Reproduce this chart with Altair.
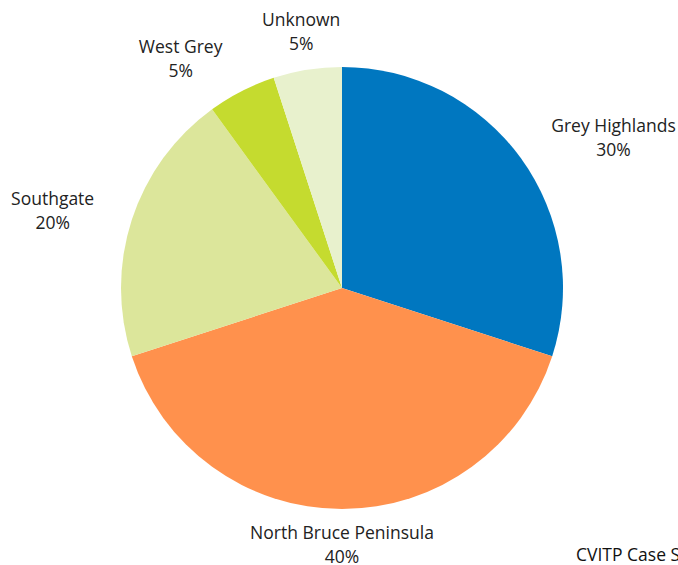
import altair as alt
import pandas as pd

categories = ["Grey Highlands", "North Bruce Peninsula", "Southgate", "West Grey", "Unknown"]
shares = [30, 40, 20, 5, 5]
colors = ["#0077C0", "#FF914D", "#DCE69B", "#C5DB2F", "#E8F1CD"]

# label layout (best-fit placement, like the original): radius from centre and angular nudge in degrees
label_radius = {"Grey Highlands": 311, "North Bruce Peninsula": 255, "Southgate": 300,
                "West Grey": 282, "Unknown": 261}
label_nudge = {"Grey Highlands": 6.8, "North Bruce Peninsula": 0, "Southgate": -2.7,
               "West Grey": -7.9, "Unknown": 0}

df = pd.DataFrame({"category": categories, "share": shares})
df["order"] = range(len(df))
df["label"] = [f"{c}\n{s}%" for c, s in zip(categories, shares)]
total = sum(shares)
cum = 0
mids = []
for s in shares:
    mids.append((cum + s / 2) / total)
    cum += s
df["mid"] = mids
df["lr"] = df["category"].map(label_radius)
df["nudge"] = df["category"].map(label_nudge)

CX, CY, R = 342, 288, 221
FONT = "Open Sans"
FS = 17.5

base = alt.Chart(df)

pie = base.mark_arc(outerRadius=R, stroke=None).encode(
    theta=alt.Theta("share:Q", stack=True),
    order=alt.Order("order:Q"),
    color=alt.Color("category:N", scale=alt.Scale(domain=categories, range=colors), legend=None),
    x=alt.value(CX),
    y=alt.value(CY),
)

labels = base.transform_calculate(
    lang="datum.mid * 360 + datum.nudge"
).mark_text(
    font=FONT, fontSize=FS, color="#222222", lineBreak="\n",
    align="center", baseline="middle", lineHeight=24, dy=-9
).encode(
    theta=alt.Theta("lang:Q", stack=False, scale=alt.Scale(domain=[0, 360], range=[0, 6.283185307179586])),
    radius=alt.Radius("lr:Q", scale=None),
    text="label:N",
    x=alt.value(CX),
    y=alt.value(CY),
)

footer = alt.Chart(pd.DataFrame({"t": ["CVITP Case Study"]})).mark_text(
    font=FONT, fontSize=FS, color="#111111", align="left", baseline="middle"
).encode(x=alt.value(576), y=alt.value(556), text="t:N")

chart = alt.layer(pie, labels, footer).resolve_scale(
    theta="independent"
).properties(
    width=678, height=565, autosize=alt.AutoSizeParams(type="none"), padding=0
).configure_view(stroke=None)

chart.save("out.html", embed_options={"renderer": "svg", "actions": False})
